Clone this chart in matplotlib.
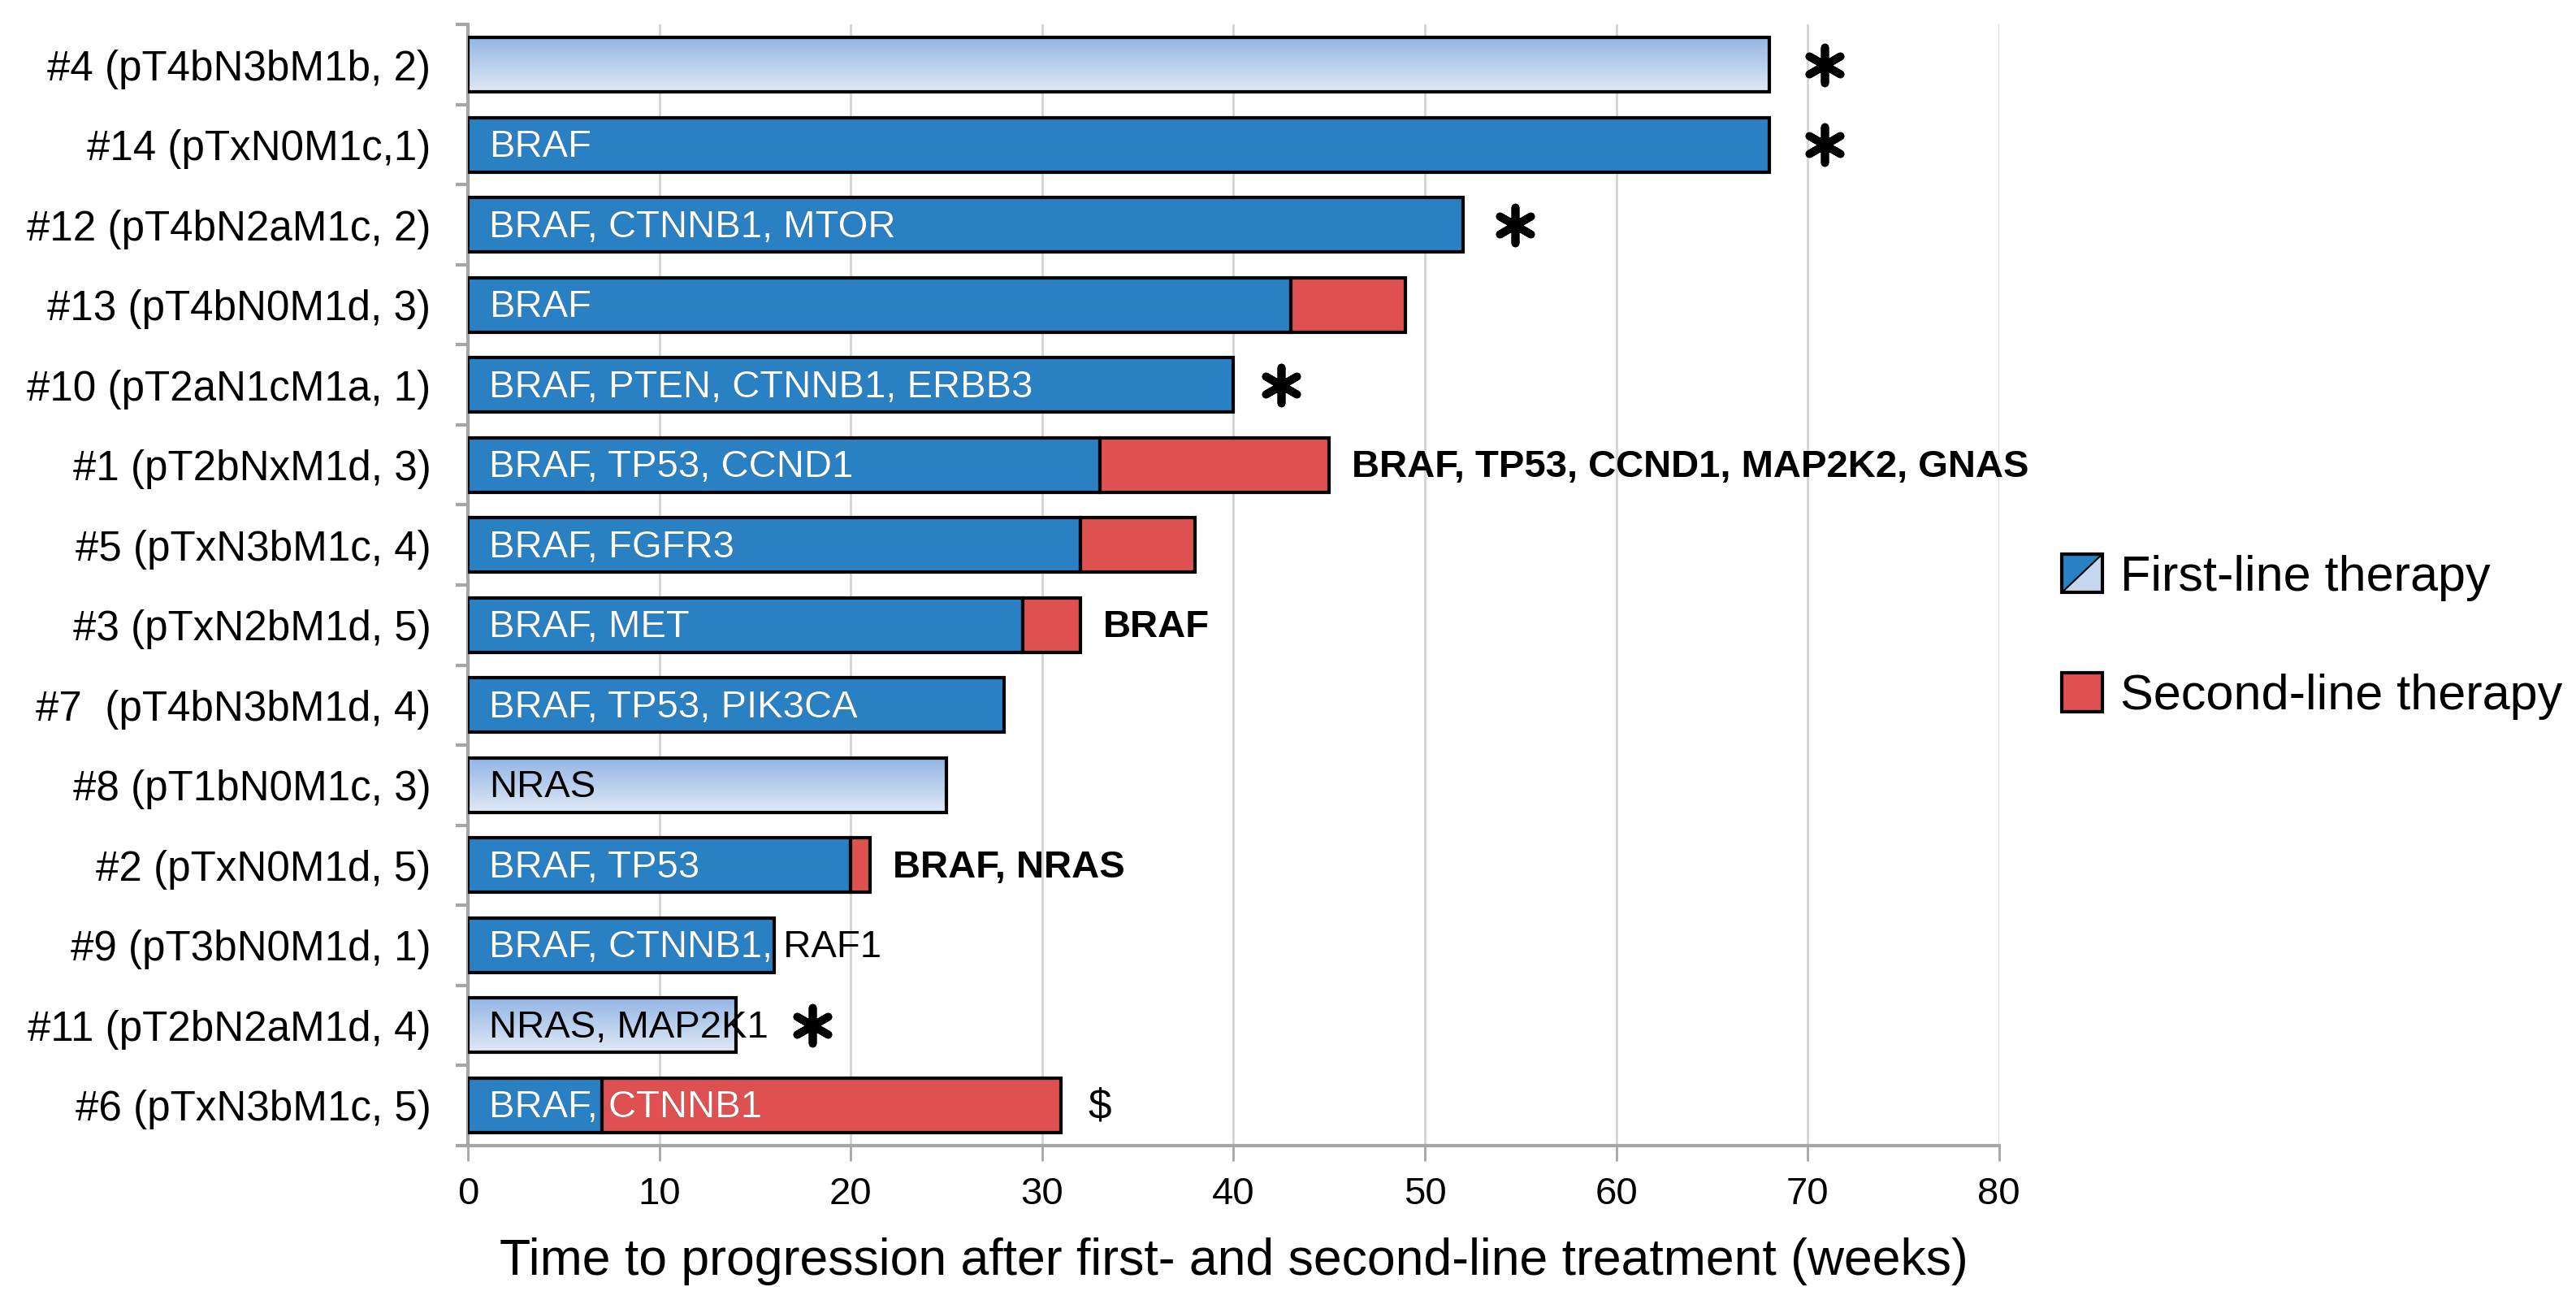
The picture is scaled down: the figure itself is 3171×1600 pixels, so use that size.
import numpy as np
import matplotlib
matplotlib.use("Agg")
import matplotlib.pyplot as plt
from matplotlib.patches import Rectangle, Polygon
from matplotlib.legend_handler import HandlerBase
from matplotlib.lines import Line2D

plt.rcParams['font.family'] = ['Liberation Sans', 'DejaVu Sans']

patients = ["#4 (pT4bN3bM1b, 2)", "#14 (pTxN0M1c,1)", "#12 (pT4bN2aM1c, 2)",
            "#13 (pT4bN0M1d, 3)", "#10 (pT2aN1cM1a, 1)", "#1 (pT2bNxM1d, 3)",
            "#5 (pTxN3bM1c, 4)", "#3 (pTxN2bM1d, 5)", "#7  (pT4bN3bM1d, 4)",
            "#8 (pT1bN0M1c, 3)", "#2 (pTxN0M1d, 5)", "#9 (pT3bN0M1d, 1)",
            "#11 (pT2bN2aM1d, 4)", "#6 (pTxN3bM1c, 5)"]
first_line = [68, 68, 52, 43, 40, 33, 32, 29, 28, 25, 20, 16, 14, 7]
second_line = [0, 0, 0, 6, 0, 12, 6, 3, 0, 0, 1, 0, 0, 24]
light_bar = [True, False, False, False, False, False, False, False, False,
             True, False, False, True, False]
mutations = ["", "BRAF", "BRAF, CTNNB1, MTOR", "BRAF", "BRAF, PTEN, CTNNB1, ERBB3",
             "BRAF, TP53, CCND1", "BRAF, FGFR3", "BRAF, MET", "BRAF, TP53, PIK3CA",
             "NRAS", "BRAF, TP53", "BRAF, CTNNB1, RAF1", "NRAS, MAP2K1", "BRAF, CTNNB1"]
second_mut = ["", "", "", "", "", "BRAF, TP53, CCND1, MAP2K2, GNAS", "", "BRAF",
              "", "", "BRAF, NRAS", "", "", ""]
star_x = [70.9, 70.9, 54.7, None, 42.5, None, None, None, None, None, None, None, 18.0, None]
dollar_x = [None] * 13 + [33.0]

BLUE = '#2981C3'
RED = '#DF5050'
LIGHT_TOP = '#93B5E5'
LIGHT_BOT = '#E0E9F5'
GRAY = '#A6A6A6'

fig = plt.figure(figsize=(31.71, 16), dpi=100)
ax = fig.add_axes([0.1817, 0.119, 0.776 - 0.1817, 0.862])

n = len(patients)
y = np.arange(n)
h = 0.68

grad = np.linspace(0, 1, 256).reshape(-1, 1)
cmap = matplotlib.colors.LinearSegmentedColormap.from_list('lb', [LIGHT_TOP, LIGHT_BOT])

for i in range(n):
    f = first_line[i]
    s = second_line[i]
    if light_bar[i]:
        r = Rectangle((0, y[i] - h / 2), f, h, facecolor='none', edgecolor='black',
                      lw=3, zorder=4)
        ax.add_patch(r)
        im = ax.imshow(grad, cmap=cmap, aspect='auto', extent=[0, f, y[i] + h / 2, y[i] - h / 2],
                       zorder=3, interpolation='bilinear')
        im.set_clip_path(r)
    else:
        ax.barh(y[i], f, height=h, color=BLUE, edgecolor='black', lw=3, zorder=3)
    if s > 0:
        ax.barh(y[i], s, left=f, height=h, color=RED, edgecolor='black', lw=3, zorder=3)

    if mutations[i]:
        tx = 1.1
        if light_bar[i]:
            ax.text(tx, y[i] + 0.03, mutations[i], fontsize=34, color='black',
                    va='center', ha='left', zorder=6)
        else:
            # black copy shows where the label runs past the bar, white copy is clipped to it
            ax.text(tx, y[i] + 0.03, mutations[i], fontsize=34, color='black',
                    va='center', ha='left', zorder=5)
            clip = Rectangle((0, y[i] - h / 2), f + s, h, transform=ax.transData,
                             facecolor='none', edgecolor='none')
            ax.add_patch(clip)
            t = ax.text(tx, y[i] + 0.03, mutations[i], fontsize=34, color='white',
                        va='center', ha='left', zorder=6)
            t.set_clip_on(True)
            t.set_clip_path(clip)

    if second_mut[i]:
        ax.text(f + s + 1.2, y[i] + 0.03, second_mut[i], fontsize=34, fontweight='bold',
                va='center', ha='left', zorder=6)
    if star_x[i] is not None:
        ax.scatter([star_x[i]], [y[i]], marker=(6, 2, 0), s=1000, color='black',
                   linewidths=7, zorder=6)
    if dollar_x[i] is not None:
        ax.text(dollar_x[i], y[i] + 0.03, "$", fontsize=37, va='center', ha='center', zorder=6)

ax.set_xlim(0, 80)
ax.set_ylim(n - 0.5, -0.5)
ax.set_xticks(np.arange(0, 81, 10))
ax.set_yticks(y)
ax.set_yticklabels(patients, fontsize=36.8)
ax.set_yticks(np.arange(-0.5, n, 1), minor=True)
ax.tick_params(axis='y', which='major', length=0, pad=33)
ax.tick_params(axis='y', which='minor', length=11, width=3, color=GRAY)
ax.tick_params(axis='x', which='major', length=14, width=2, color=GRAY, labelsize=34, pad=14)
ax.grid(axis='x', color='#D4D4D4', lw=2, zorder=0)
ax.set_axisbelow(True)
for side in ['top', 'right']:
    ax.spines[side].set_visible(False)
for side in ['left', 'bottom']:
    ax.spines[side].set_color(GRAY)
    ax.spines[side].set_linewidth(3)
ax.set_xlabel("Time to progression after first- and second-line treatment (weeks)",
              fontsize=45, labelpad=22)


class FirstLineHandler(HandlerBase):
    def create_artists(self, legend, orig_handle, xdescent, ydescent, width, height,
                       fontsize, trans):
        x0, y0 = -xdescent, -ydescent
        blue = Polygon([[x0, y0], [x0, y0 + height], [x0 + width, y0 + height]],
                       closed=True, facecolor=BLUE, edgecolor='none', transform=trans)
        light = Polygon([[x0, y0], [x0 + width, y0], [x0 + width, y0 + height]],
                        closed=True, facecolor='#C5D7EF', edgecolor='none', transform=trans)
        diag = Line2D([x0, x0 + width], [y0, y0 + height], color='black', lw=1.5,
                      transform=trans)
        box = Rectangle((x0, y0), width, height, facecolor='none', edgecolor='black',
                        lw=3, transform=trans)
        return [blue, light, diag, box]


first_handle = Rectangle((0, 0), 1, 1)
second_handle = Rectangle((0, 0), 1, 1, facecolor=RED, edgecolor='black', lw=3)
fig.legend([first_handle, second_handle], ["First-line therapy", "Second-line therapy"],
           handler_map={first_handle: FirstLineHandler()},
           loc='center left', bbox_to_anchor=(0.8004, 0.51), bbox_transform=fig.transFigure,
           fontsize=44, frameon=False, handlelength=0.82, handleheight=0.82,
           handletextpad=0.35, labelspacing=1.45, borderpad=0, borderaxespad=0)

fig.savefig("out.png", dpi=100)
